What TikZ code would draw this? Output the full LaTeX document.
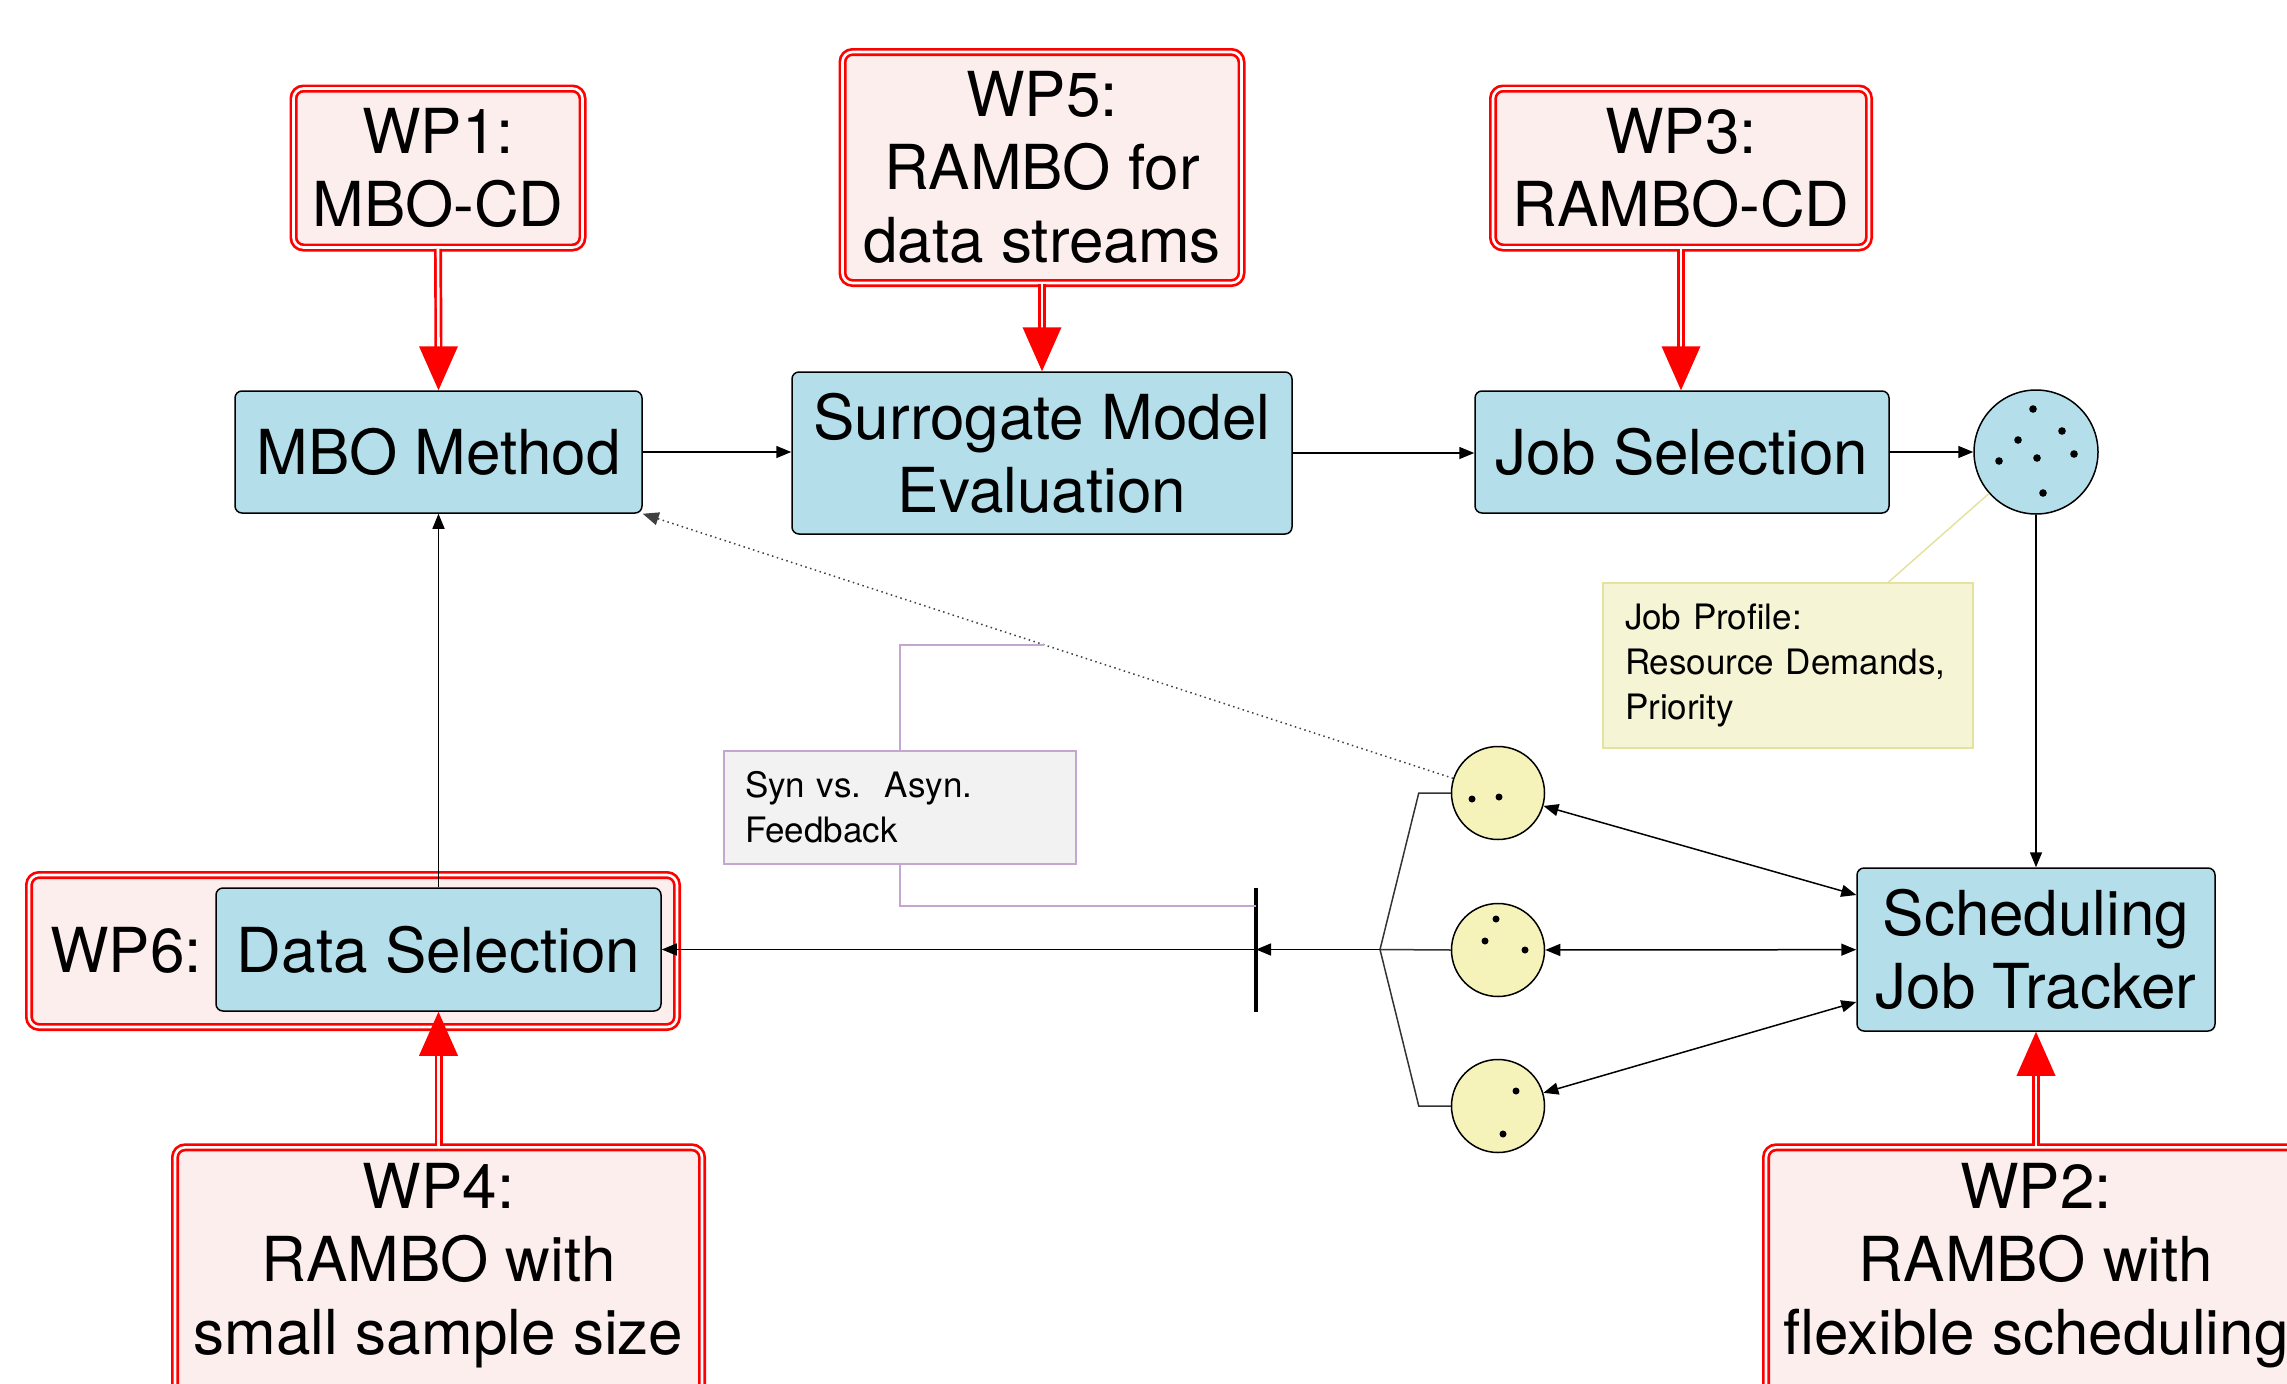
\documentclass[tikz,border=0pt]{standalone}
\usepackage{fontspec}
\setmainfont{TeX Gyre Heros}
\usetikzlibrary{arrows.meta,calc}
\definecolor{boxblue}{RGB}{180,223,234}
\definecolor{wppink}{RGB}{253,238,238}
\definecolor{circyel}{RGB}{245,242,186}
\definecolor{notey}{RGB}{245,244,212}
\definecolor{noteyb}{RGB}{228,226,158}
\definecolor{notegray}{RGB}{242,242,242}
\definecolor{notepur}{RGB}{196,166,210}
\begin{document}
\begin{tikzpicture}[x=1pt,y=-1pt,
  big/.style={font=\fontsize{62}{73}\selectfont},
  small/.style={font=\fontsize{35}{45}\selectfont},
  procbox/.style={big, draw=black, line width=1.5pt, fill=boxblue, rounded corners=7pt, align=center, inner sep=0pt},
  wpbox/.style={big, draw=red, double=white, double distance=2.6pt, line width=2.7pt, fill=wppink, rounded corners=10pt, align=center, inner sep=0pt},
  wpshaft/.style={draw=red, double=white, double distance=2.6pt, line width=2.7pt},
  ycirc/.style={circle, draw=black, line width=1.5pt, fill=circyel, minimum size=93pt, inner sep=0pt},
  conn/.style={draw=black, line width=1.5pt, -{Triangle[length=15pt,width=12pt]}},
  dconn/.style={draw=black, line width=1.5pt, {Triangle[length=15pt,width=12pt]}-{Triangle[length=15pt,width=12pt]}},
  brk/.style={draw=black!80, line width=1.5pt},
  dotconn/.style={draw=black!75, line width=1.5pt, dash pattern=on 1.5pt off 3.5pt, -{Triangle[length=16pt,width=13pt]}},
  purp/.style={draw=notepur, line width=1.5pt},
  synnote/.style={small, draw=notepur, fill=notegray, line width=1.5pt, text width=310pt, inner xsep=21pt, inner ysep=10pt, minimum height=113pt, align=left},
  jpnote/.style={small, draw=noteyb, fill=notey, line width=1.5pt, text width=326pt, inner xsep=22pt, inner ysep=10pt, minimum height=165pt, align=left},
  jpline/.style={draw=noteyb, line width=1.5pt}
]
\useasboundingbox (0,0) rectangle (2287,1384);

% work package boxes (top)
\node[wpbox, minimum width=289pt, minimum height=159pt] (wp1) at (438,168) {WP1:\\MBO-CD};
\node[wpbox, minimum width=399pt, minimum height=231pt] (wp5) at (1042,167.5) {WP5:\\RAMBO for\\data streams};
\node[wpbox, minimum width=376pt, minimum height=159pt] (wp3) at (1681,168) {WP3:\\RAMBO-CD};

% process boxes
\node[procbox, minimum width=407pt, minimum height=122pt] (mbo) at (438.5,452) {MBO Method};
\node[procbox, minimum width=500pt, minimum height=162pt] (surr) at (1042,453) {Surrogate Model\\Evaluation};
\node[procbox, minimum width=414pt, minimum height=122pt] (jobsel) at (1682,452) {Job Selection};
\node[circle, draw=black, line width=1.5pt, fill=boxblue, minimum size=124pt, inner sep=0pt] (bigc) at (2036,452) {};
\node[procbox, minimum width=358pt, minimum height=163pt] (sched) at (2036,949.5) {Scheduling\\Job Tracker};

% WP6 with data selection
\node[wpbox, minimum width=648pt, minimum height=152pt] (wp6) at (353,951) {};
\node[big, inner sep=0pt] (wp6lab) at (126,950) {WP6:};
\node[procbox, minimum width=445pt, minimum height=123pt] (datasel) at (438.5,949.5) {Data Selection};

% bottom work packages (cut by page)
\node[wpbox, minimum width=527pt, minimum height=300pt, anchor=north] (wp4) at (438.5,1146) {};
\node[big, align=center, inner sep=0pt] (wp4txt) at (438.5,1266) {WP4:\\RAMBO with\\small sample size};
\node[wpbox, minimum width=540pt, minimum height=300pt, anchor=north] (wp2) at (2036,1146) {};
\node[big, align=center, inner sep=0pt] (wp2txt) at (2036,1266) {WP2:\\RAMBO with\\flexible scheduling};

% dots in big circle
\foreach \p in {(2033,409),(2062,431),(2018,440),(2074,454),(1999,461),(2037,458),(2043,493)}
  \fill \p circle (3.8pt);

% small circles
\node[ycirc] (c1) at (1498,793) {};
\node[ycirc] (c2) at (1498,950) {};
\node[ycirc] (c3) at (1498,1106) {};
\foreach \p in {(1472,799),(1499,797),(1496,919),(1485,941),(1525,950),(1516,1091),(1503,1134)}
  \fill \p circle (3.5pt);

% notes
\node[jpnote] (jp) at (1788,665.5) {Job Profile:\\Resource Demands,\\Priority};
\node[synnote] (syn) at (900,807.5) {Syn vs.\ \ Asyn.\\Feedback};

% black connectors
\draw[conn] (mbo.east) -- (mbo.east -| surr.west);
\draw[conn] (surr.east) -- (surr.east -| jobsel.west);
\draw[conn] (jobsel) -- (bigc);
\draw[conn] (bigc) -- (sched);
\draw[dconn] (c1) -- ($(sched.west)+(0,-54.5)$);
\draw[dconn] (c2) -- (sched);
\draw[dconn] (c3) -- ($(sched.west)+(0,52.5)$);

\coordinate (br) at (1380,949.5);
\coordinate (bar) at (1256,949.5);
\draw[brk] (c1.west) -- ++(-32,0) -- (br) -- ($(c3.west)+(-32,0)$) -- (c3.west);
\draw[brk] (br) -- (c2.west);
\draw[conn] (br) -- (bar);
\draw[line width=3.5pt] ($(bar)+(0,-62)$) -- ($(bar)+(0,62)$);
\draw[conn] (bar) -- (datasel.east);
\draw[conn] (datasel) -- (mbo);
\draw[dotconn] (c1) -- (mbo.south east);

% note connectors
\coordinate (fb) at (1044,645);
\draw[purp] (syn.north) |- (fb);
\draw[purp] (syn.south) |- ($(bar)+(0,-43.5)$);
\draw[jpline] ($(jp.north west)+(286,0)$) -- (bigc);

% red work-package arrows
\draw[wpshaft] (wp1.south) -- ($(mbo.north)+(0,-42)$);
\fill[red] (mbo.north) -- ++(-19.5,-44) -- ++(39,0) -- cycle;
\draw[wpshaft] (wp5.south) -- ($(surr.north)+(0,-42)$);
\fill[red] (surr.north) -- ++(-19.5,-44) -- ++(39,0) -- cycle;
\draw[wpshaft] (wp3.south) -- ($(wp3.south |- jobsel.north)+(0,-42)$);
\fill[red] (wp3.south |- jobsel.north) -- ++(-19.5,-44) -- ++(39,0) -- cycle;
\draw[wpshaft] (wp4.north) -- ($(datasel.south)+(0,42)$);
\fill[red] (datasel.south) -- ++(-19.5,44) -- ++(39,0) -- cycle;
\draw[wpshaft] (wp2.north) -- ($(sched.south)+(0,42)$);
\fill[red] (sched.south) -- ++(-19.5,44) -- ++(39,0) -- cycle;
\end{tikzpicture}
\end{document}
